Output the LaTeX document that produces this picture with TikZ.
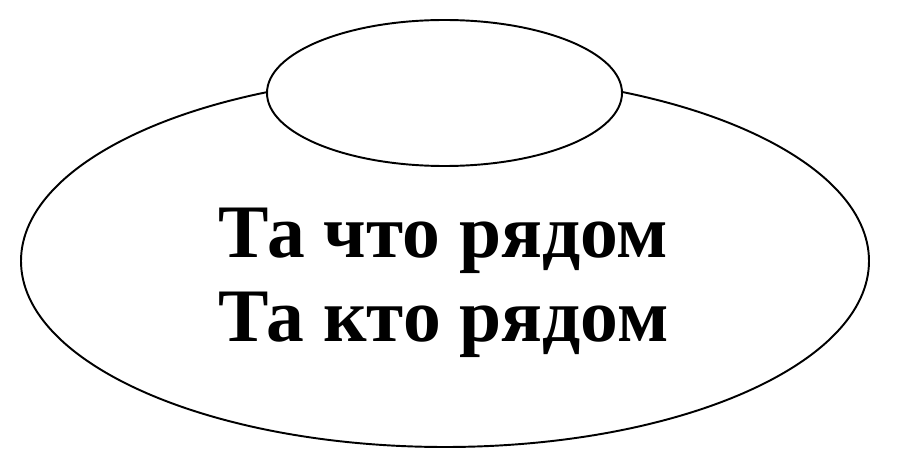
\documentclass[tikz,border=0pt]{standalone}
\usepackage{fontspec}
\setmainfont{Liberation Serif}
\usetikzlibrary{shapes.geometric}

\begin{document}
\begin{tikzpicture}
        \useasboundingbox (0,0) rectangle (18,9.46);
        \tikzset{oval/.style={ellipse, draw, line width=1.1pt, fill=white, inner sep=0pt}}
        \node[oval, minimum width=16.96cm, minimum height=7.44cm] (brim) at (8.9,4.24) {};
        \node[oval, minimum width=7.1cm, minimum height=2.92cm] (crown) at (8.89,7.6) {};
        \node[align=center, font=\bfseries\fontsize{43}{48}\selectfont] (words) at (8.87,3.8)
            {Та что рядом\\Та кто рядом};
    \end{tikzpicture}
\end{document}
